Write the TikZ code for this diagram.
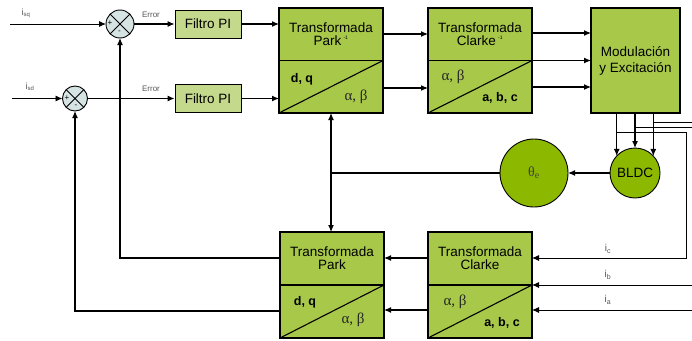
\documentclass[tikz,border=0pt]{standalone}
\usepackage{fontspec}
\setmainfont{Liberation Sans}
\newfontfamily\greekfont{Liberation Serif}
\usetikzlibrary{arrows.meta,calc}
\definecolor{boxgreen}{HTML}{A8C84A}
\definecolor{pigreen}{HTML}{C4D98C}
\definecolor{discgreen}{HTML}{8DB800}
\definecolor{sumfill}{HTML}{D5E3E3}
\definecolor{labelgray}{HTML}{555555}
\begin{document}
\begin{tikzpicture}[x=1pt,y=-1pt,
  wire/.style={line width=1.1pt},
  arr/.style={wire,-{Latex[length=7pt,width=6pt]}},
  feed/.style={line width=0.9pt},
  feedarr/.style={feed,-{Latex[length=7pt,width=6pt]}},
  tbox/.style={draw,line width=1.1pt,fill=boxgreen,minimum width=104pt,minimum height=105pt,inner sep=0pt,outer sep=0pt},
  pibox/.style={draw,line width=0.9pt,fill=pigreen,minimum width=66pt,minimum height=28pt,inner sep=0pt,
    font=\fontsize{13.5}{14}\selectfont},
  sumnode/.style={circle,draw,line width=0.9pt,fill=sumfill,inner sep=0pt,outer sep=0pt},
  disc/.style={circle,draw,line width=0.9pt,fill=discgreen,inner sep=0pt,outer sep=0pt},
  title/.style={align=center,inner sep=0pt,font=\fontsize{13.5}{12.5}\selectfont},
  corner/.style={inner sep=0pt,font=\fontsize{12.5}{14}\selectfont\bfseries},
  greek/.style={inner sep=0pt,text=black!85,font=\fontsize{15}{16}\selectfont\greekfont},
  sig/.style={inner sep=0pt,font=\fontsize{8}{9}\selectfont},
  small/.style={inner sep=0pt,text=labelgray,font=\fontsize{8}{9}\selectfont},
  cur/.style={inner sep=0pt,text=labelgray,font=\fontsize{10}{11}\selectfont}
]
\useasboundingbox[fill=white] (0,0) rectangle (692,340);
\clip (0,0) rectangle (692,340);

% summing junctions and PI controllers
\node[sumnode,minimum size=28pt] (s1) at (120,24) {};
\node[sumnode,minimum size=25pt] (s2) at (75,98.5) {};
\foreach \s in {s1,s2}{
  \draw[line width=0.9pt] (\s.45) -- (\s.225) (\s.135) -- (\s.315);
}
\node[sig] at (110,23) {+};
\node[sig] at (119.5,32) {-};
\node[sig] at (67,98) {+};
\node[sig] at (76,106) {-};

\node[pibox] (pi1) at (208,24) {Filtro PI};
\node[pibox] (pi2) at (208,98.5) {Filtro PI};

% inverse transforms and modulator
\node[tbox] (pinv) at (331,60.5) {};
\node[tbox] (cinv) at (480,60.5) {};
\node[tbox,minimum width=89pt] (mod) at (635.5,60.5) {};
\node[title] at (mod.center) {Modulación\\[3.5pt]y Excitación};

% direct transforms
\node[tbox,minimum height=106pt] (pk) at (332,285) {};
\node[tbox,minimum height=106pt] (cl) at (480,285) {};

% dividers and diagonals of the transform blocks
\foreach \b in {pinv,cinv,pk,cl}{
  \draw[wire] (\b.west) -- (\b.east);
  \draw[wire] (\b.south west) -- (\b.east);
}
\node[title] at ($(pinv.north)+(0,26)$) {Transformada\\Park\,\textsuperscript{\tiny -1}};
\node[title] at ($(cinv.north)+(0,26)$) {Transformada\\Clarke\,\textsuperscript{\tiny -1}};
\node[title] at ($(pk.north)+(0,26)$) {Transformada\\Park};
\node[title] at ($(cl.north)+(0,26)$) {Transformada\\Clarke};

\node[corner] at ($(pinv.west)+(23,19)$) {d, q};
\node[greek] at ($(pinv.east)+(-27,36)$) {α, β};
\node[greek] at ($(cinv.west)+(25,16)$) {α, β};
\node[corner] at ($(cinv.east)+(-32,37)$) {a, b, c};
\node[corner] at ($(pk.west)+(25,17)$) {d, q};
\node[greek] at ($(pk.east)+(-31,35)$) {α, β};
\node[greek] at ($(cl.west)+(27,17)$) {α, β};
\node[corner] at ($(cl.east)+(-30,38)$) {a, b, c};

% motor and angle
\node[disc,minimum size=50pt,font=\fontsize{13.5}{14}\selectfont] (bldc) at (635,173) {BLDC};
\node[disc,minimum size=68pt,text=black!75,font=\fontsize{14}{15}\selectfont\greekfont] (theta) at (534,173) {θ\textsubscript{e}};

% reference inputs
\coordinate (isq) at (10,24);
\coordinate (isd) at (12,98.5);
\draw[feedarr] (isq) -- (s1.west);
\draw[feedarr] (isd) -- (s2.west);
\node[small,font=\fontsize{9}{10}\selectfont] at (26,13) {i\textsubscript{sq}};
\node[small,font=\fontsize{9}{10}\selectfont] at (30,87) {i\textsubscript{sd}};

% forward path
\draw[arr] (s1.east) -- (pi1.west);
\draw[arr] (s2.east) -- (pi2.west);
\node[small] at (151,15) {Error};
\node[small] at (151,89) {Error};
\draw[arr] (pi1.east) -- (pinv.west |- pi1.east);
\draw[arr] (pi2.east) -- (pinv.west |- pi2.east);
\draw[arr] (pinv.east |- 0,34) -- (cinv.west |- 0,34);
\draw[arr] (pinv.east |- 0,88) -- (cinv.west |- 0,88);
\draw[arr] (cinv.east |- 0,33) -- (mod.west |- 0,33);
\draw[arr] (cinv.east) -- (mod.west);
\draw[arr] (cinv.east |- 0,87) -- (mod.west |- 0,87);

% phase outputs into the motor
\draw[arr] (bldc.137 |- mod.south) -- (bldc.137);
\draw[arr] (bldc.north |- mod.south) -- (bldc.north);
\draw[arr] (bldc.43 |- mod.south) -- (bldc.43);

% phase current measurements
\coordinate (tc) at (bldc.137 |- 0,132);
\coordinate (tb) at (bldc.north |- 0,127);
\coordinate (ta) at (bldc.43 |- 0,122);
\draw[feedarr] (tc) -- (686,132) -- (686,258) -- (cl.east |- 0,258);
\draw[feedarr] (tb) -- (696,127) -- (696,285) -- (cl.east);
\draw[feedarr] (ta) -- (701,122) -- (701,310) -- (cl.east |- 0,310);
\node[cur] at (608,249) {i\textsubscript{c}};
\node[cur] at (608,275) {i\textsubscript{b}};
\node[cur] at (608,300) {i\textsubscript{a}};

% angle feedback
\draw[arr] (bldc.west) -- (theta.east);
\coordinate (tj) at (pinv.south |- theta.west);
\draw[wire] (theta.west) -- (tj);
\draw[wire,{Latex[length=7pt,width=6pt]}-{Latex[length=7pt,width=6pt]}] (pinv.south) -- (pk.north -| pinv.south);

% current feedback
\draw[arr] (cl.west |- 0,258) -- (pk.east |- 0,258);
\draw[arr] (cl.west |- 0,310) -- (pk.east |- 0,310);
\draw[arr] (pk.west |- 0,258) -- (s1.south |- 0,258) -- (s1.south);
\draw[arr] (pk.west |- 0,311) -- (s2.south |- 0,311) -- (s2.south);
\end{tikzpicture}
\end{document}
